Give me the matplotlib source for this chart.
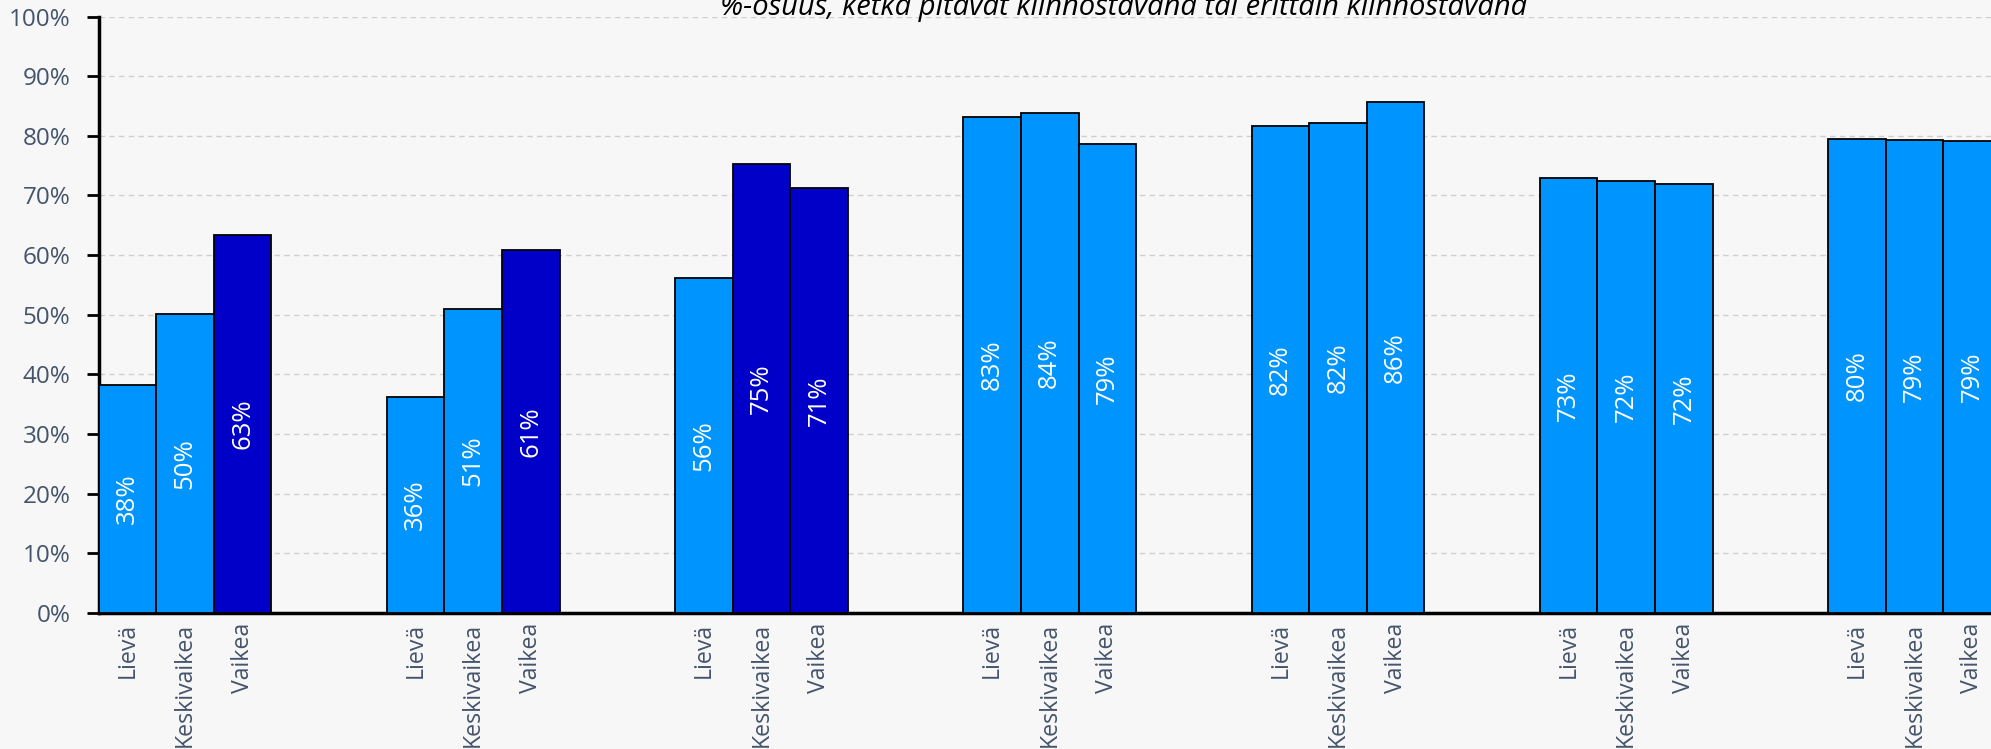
import matplotlib
matplotlib.use("Agg")
import matplotlib.pyplot as plt
from matplotlib.ticker import PercentFormatter, MultipleLocator

# ---- data ----
severity = ["Lievä", "Keskivaikea", "Vaikea"]
group1 = [38.3, 50.2, 63.4]
group2 = [36.2, 51.0, 60.9]
group3 = [56.2, 75.3, 71.3]
group4 = [83.2, 83.8, 78.6]
group5 = [81.7, 82.1, 85.7]
group6 = [72.9, 72.4, 72.0]
group7 = [79.5, 79.3, 79.1]
groups = [group1, group2, group3, group4, group5, group6, group7]
highlight = [
    [False, False, True],
    [False, False, True],
    [False, True, True],
    [False, False, False],
    [False, False, False],
    [False, False, False],
    [False, False, False],
]
title = "%-osuus, ketkä pitävät kiinnostavana tai erittäin kiinnostavana"

# ---- style ----
BG = "#F7F7F7"
LIGHT = "#0094FF"
DARK = "#0000C8"
TXT = "#44546A"
FONT = "Open Sans"

W, H = 1991, 749
fig = plt.figure(figsize=(W / 100, H / 100), dpi=100, facecolor=BG)

slot_px = 57.65
left_px = 98.5
n_slots = 35
ax_left = left_px / W
ax_width = n_slots * slot_px / W
ax_bottom = 1 - 613 / H
ax_top = 1 - 16.5 / H
ax = fig.add_axes([ax_left, ax_bottom, ax_width, ax_top - ax_bottom])
ax.set_facecolor(BG)

xs, hs, cols, labels = [], [], [], []
for gi, (vals, hl) in enumerate(zip(groups, highlight)):
    for bi, (v, h) in enumerate(zip(vals, hl)):
        xs.append(gi * 5 + bi + 0.5)
        hs.append(v)
        cols.append(DARK if h else LIGHT)
        labels.append(severity[bi])

bars = ax.bar(xs, hs, width=1.0, color=cols, edgecolor="black", linewidth=1.3, zorder=3)
for b, v in zip(bars, hs):
    ax.text(b.get_x() + b.get_width() / 2, v / 2, f"{round(v)}%", rotation=90,
            ha="center", va="center", color="white", fontsize=18.5,
            family=FONT, zorder=4)

ax.set_xlim(0, n_slots)
ax.set_ylim(0, 100)
ax.yaxis.set_major_locator(MultipleLocator(10))
ax.yaxis.set_major_formatter(PercentFormatter(decimals=0))
ax.grid(axis="y", color="#CFCFCF", linestyle=(0, (4, 3)), linewidth=1.0, zorder=0)
ax.set_axisbelow(True)

ax.set_xticks(xs)
ax.set_xticklabels(labels, rotation=90, va="top", ha="center")
ax.tick_params(axis="x", length=0, pad=7, labelsize=16.7, labelcolor=TXT)
ax.tick_params(axis="y", length=9, width=2, pad=11, labelsize=17.5, labelcolor=TXT, color="black")
for lab in ax.get_xticklabels() + ax.get_yticklabels():
    lab.set_family(FONT)

for s in ["top", "right"]:
    ax.spines[s].set_visible(False)
for s in ["left", "bottom"]:
    ax.spines[s].set_linewidth(2.5)
    ax.spines[s].set_color("black")

fig.text(1124 / W, 1 - 15 / H, title, ha="center", va="baseline", style="italic",
         fontsize=21, family=FONT, color="black")

fig.savefig("out.png", dpi=100, facecolor=BG)
